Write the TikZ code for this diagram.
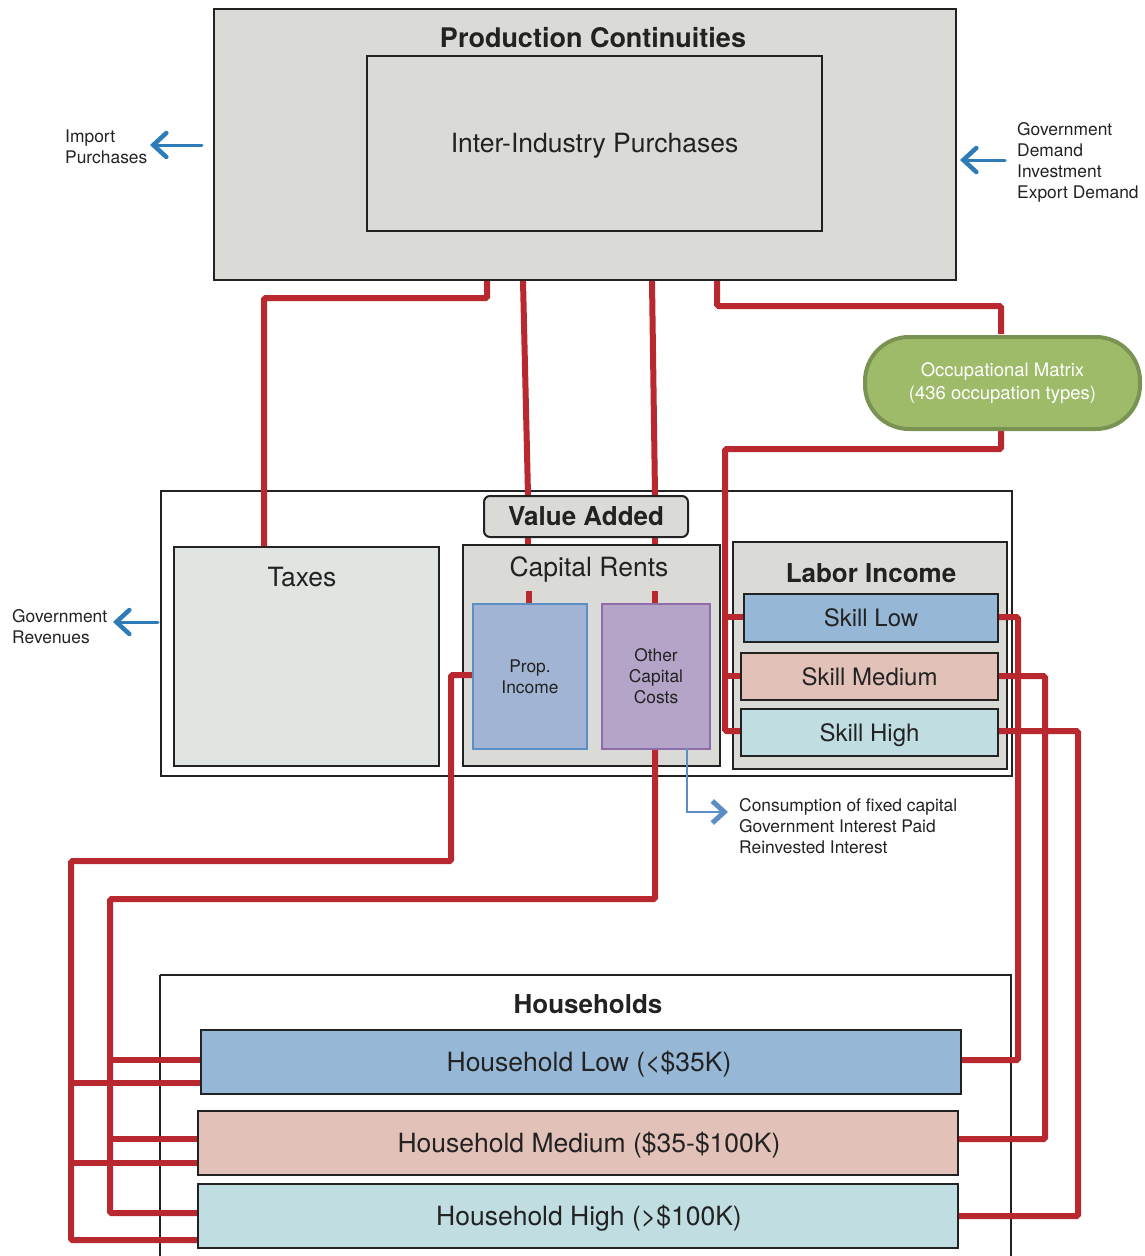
\documentclass[tikz,border=0pt]{standalone}
\usepackage{fontspec}
\setmainfont{TeX Gyre Heros}
\usetikzlibrary{arrows.meta,calc}
\definecolor{boxgray}{HTML}{DADAD6}
\definecolor{taxgray}{HTML}{E1E5E2}
\definecolor{propfill}{HTML}{A1B4D4}
\definecolor{propdraw}{HTML}{5A8EC4}
\definecolor{othfill}{HTML}{B4A4C8}
\definecolor{othdraw}{HTML}{8E6DAA}
\definecolor{lowfill}{HTML}{96B8D6}
\definecolor{medfill}{HTML}{E2C2B8}
\definecolor{highfill}{HTML}{C0DDE2}
\definecolor{greenfill}{HTML}{9EBB6A}
\definecolor{greendraw}{HTML}{7A9352}
\definecolor{redline}{HTML}{B9282F}
\definecolor{arrowblue}{HTML}{2D7CB8}
\definecolor{thinblue}{HTML}{5B8EC4}
\definecolor{ink}{HTML}{222222}
\begin{document}
\begin{tikzpicture}[x=1pt,y=-1pt,
  frame/.style={draw=ink, line width=1.5pt, anchor=north west, inner sep=0pt},
  box/.style={draw=ink, line width=2pt, fill=boxgray, anchor=north west, inner sep=0pt, text=ink},
  capc/.style={text height=#1, text depth=0pt},
  flow/.style={draw=redline, line width=6pt, rounded corners=1.5pt},
  outarrow/.style={draw=arrowblue, line width=3pt, line cap=round, -{Straight Barb[length=13pt,width=24pt,line width=4.5pt,line cap=round]}},
  thinarrow/.style={draw=thinblue, line width=2pt, -{Straight Barb[length=12pt,width=22pt,line width=5pt]}},
  small/.style={font=\fontsize{17.4}{21}\selectfont, align=left, anchor=west, inner sep=0pt, text=ink},
  big/.style={font=\fontsize{26.5}{30}\selectfont, text=ink, inner sep=0pt},
  bigbold/.style={font=\fontsize{26}{30}\selectfont\bfseries, text=ink, inner sep=0pt},
  skill/.style={box, capc=17.3pt, font=\fontsize{24}{28}\selectfont, minimum width=257pt, minimum height=47pt},
  hh/.style={box, capc=19pt, font=\fontsize{26.5}{30}\selectfont, minimum width=760pt, minimum height=64pt}
]
\useasboundingbox (0,0) rectangle (1145,1256);

% ---------- containers ----------
\node[box, minimum width=742pt, minimum height=271pt] (pc) at (213,8) {};
\node[box, capc=19pt, minimum width=455pt, minimum height=175pt, font=\fontsize{26.5}{30}\selectfont] (ii) at (366,54.5) {Inter-Industry Purchases};
\node[bigbold, font=\fontsize{27}{30}\selectfont\bfseries] (pctitle) at (593,38) {Production Continuities};

\node[frame, minimum width=851pt, minimum height=285pt] (vaframe) at (160,490) {};
\node[box, fill=taxgray, minimum width=265pt, minimum height=219pt] (taxes) at (173,546) {};
\node[big] (taxtitle) at (302,577) {Taxes};
\node[box, minimum width=257pt, minimum height=221pt] (cr) at (462,544) {};
\node[big] (crtitle) at (589,569) {Capital Rents};
\node[box, minimum width=274pt, minimum height=227pt] (li) at (732,541) {};
\node[bigbold] (lititle) at (871,573) {Labor Income};

\draw[frame] (160,975) -- (160,1270) (160,975) -- (1011,975) -- (1011,1270);
\coordinate (hframe) at (160,975);
\node[bigbold] (hhtitle) at (588,1004) {Households};

% ---------- red flows ----------
\draw[flow] (487,0 |- pc.south) -- (487,298) -- (264,298) -- (264,0 |- taxes.north);
\draw[flow] (523,0 |- pc.south) -- (528,495);
\draw[flow] (528,536) -- (528,544);
\draw[flow] (529,591) -- (529,603);
\draw[flow] (652,0 |- pc.south) -- (655,495);
\draw[flow] (655,536) -- (655,544);
\draw[flow] (655,591) -- (655,603);
\draw[flow] (717,0 |- pc.south) -- (717,306) -- (1001,306) -- (1001,334);
\draw[flow] (1001,428) -- (1001,449) -- (725,449) -- (725,731) -- (740,731);
\draw[flow] (725,617) -- (743,617);
\draw[flow] (725,676) -- (740,676);

\draw[flow] (997,617) -- (1018,617) -- (1018,1060) -- (960,1060);
\draw[flow] (997,676) -- (1045,676) -- (1045,1139) -- (957,1139);
\draw[flow] (997,731) -- (1078,731) -- (1078,1216) -- (957,1216);

\draw[flow] (472,675) -- (451,675) -- (451,861) -- (71,861) -- (71,1240) -- (197,1240);
\draw[flow] (71,1083) -- (200,1083);
\draw[flow] (71,1163) -- (197,1163);
\draw[flow] (655,748) -- (655,899) -- (110,899) -- (110,1213) -- (197,1213);
\draw[flow] (110,1060) -- (200,1060);
\draw[flow] (110,1139) -- (197,1139);

% ---------- inner boxes ----------
\node[box, capc=18.7pt, rounded corners=6pt, minimum width=204pt, minimum height=41pt, font=\fontsize{26}{30}\selectfont\bfseries] (va) at (483,495) {Value Added};
\node[box, fill=propfill, draw=propdraw, minimum width=114pt, minimum height=145pt, font=\fontsize{17.4}{21}\selectfont, align=center] (prop) at (472,603) {Prop.\\Income};
\node[box, fill=othfill, draw=othdraw, minimum width=108pt, minimum height=145pt, font=\fontsize{17.4}{21}\selectfont, align=center] (other) at (601,603) {Other\\Capital\\Costs};
\node[skill, fill=lowfill, minimum width=254pt, minimum height=48pt] (sl) at (743,593) {Skill Low};
\node[skill, fill=medfill] (sm) at (740,652) {Skill Medium};
\node[skill, fill=highfill] (sh) at (740,708) {Skill High};

\node[hh, fill=lowfill] (hl) at (200,1029) {\hspace*{16pt}Household Low (<\$35K)};
\node[hh, fill=medfill] (hm) at (197,1110) {\hspace*{22pt}Household Medium (\$35-\$100K)};
\node[hh, fill=highfill] (hhi) at (197,1183) {\hspace*{22pt}Household High (>\$100K)};

\node[draw=greendraw, line width=4pt, fill=greenfill, rounded corners=44pt, minimum width=275pt, minimum height=92pt, anchor=north west, inner sep=0pt, text=white, align=center, font=\fontsize{18.5}{23}\selectfont] (om) at (863,335) {Occupational Matrix\\(436 occupation types)};

% ---------- blue arrows and side labels ----------
\draw[outarrow] (202,145) -- (150,145);
\node[small] (imp) at (65,146.5) {Import\\Purchases};
\draw[outarrow] (1005,160) -- (960,160);
\node[small] (gov) at (1017,162) {Government\\Demand\\Investment\\Export Demand};
\draw[outarrow] (158,622) -- (113,622);
\node[small] (rev) at (12,627) {Government\\Revenues};
\draw[thinarrow] (687,748) -- (687,812) -- (728,812);
\node[small] (cons) at (739,826) {Consumption of fixed capital\\Government Interest Paid\\Reinvested Interest};
\end{tikzpicture}
\end{document}
